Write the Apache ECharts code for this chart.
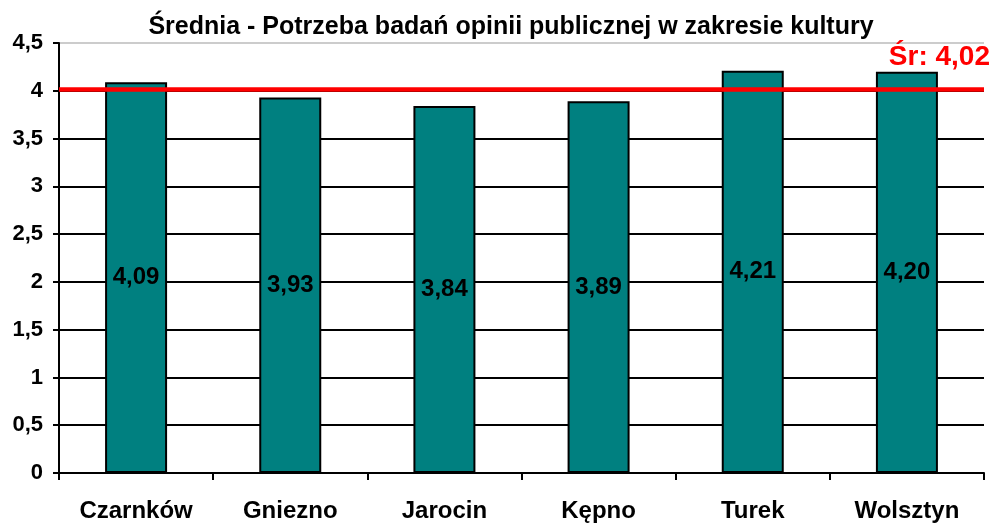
<!DOCTYPE html>
<html>
<head>
<meta charset="utf-8">
<script src="https://cdn.jsdelivr.net/npm/echarts@6/dist/echarts.min.js"></script>
<style>
  html, body { margin: 0; padding: 0; background: #fff; }
  #main { width: 994px; height: 525px; }
</style>
</head>
<body>
<div id="main"></div>
<script>
// dane wykresu
var titleText = 'Średnia - Potrzeba badań opinii publicznej w zakresie kultury'
var categories = ['Czarnków', 'Gniezno', 'Jarocin', 'Kępno', 'Turek', 'Wolsztyn']
var values = [4.09, 3.93, 3.84, 3.89, 4.21, 4.20]
var average = 4.02

var fmt = function (v) { return String(v).replace('.', ',') }

var chart = echarts.init(document.getElementById('main'))
chart.setOption({
  animation: false,
  backgroundColor: '#fff',
  textStyle: { fontFamily: 'Liberation Sans, Arial, sans-serif' },
  title: {
    text: titleText,
    left: 506,
    top: 10,
    textAlign: 'center',
    textStyle: { fontSize: 25, fontWeight: 'bold', color: '#000' }
  },
  grid: { left: 59, right: 10, top: 43, bottom: 52 },
  xAxis: {
    type: 'category',
    data: categories,
    axisLine: { lineStyle: { color: '#000', width: 2 } },
    axisTick: { show: true, length: 7, lineStyle: { color: '#000', width: 2 } },
    axisLabel: { color: '#000', fontSize: 24, fontWeight: 'bold', margin: 26 }
  },
  yAxis: {
    type: 'value',
    min: 0,
    max: 4.5,
    interval: 0.5,
    axisLine: { show: true, lineStyle: { color: '#000', width: 2 } },
    axisTick: { show: true, length: 6, lineStyle: { color: '#000', width: 2 } },
    axisLabel: {
      color: '#000', fontSize: 22, fontWeight: 'bold', margin: 16,
      formatter: function (v) { return fmt(v) }
    },
    splitLine: {
      lineStyle: {
        color: ['#000', '#000', '#000', '#000', '#000', '#000', '#000', '#000', '#000', '#ccc'],
        width: 2
      }
    }
  },
  series: [{
    type: 'bar',
    data: values,
    barWidth: 62,
    itemStyle: { color: '#008080', borderColor: '#000', borderWidth: 2 },
    label: {
      show: true,
      position: 'inside',
      color: '#000',
      fontSize: 24,
      fontWeight: 'bold',
      formatter: function (p) { return p.value.toFixed(2).replace('.', ',') }
    },
    markLine: {
      symbol: 'none',
      silent: true,
      lineStyle: { color: '#ff0000', width: 4.5, type: 'solid' },
      label: {
        show: true,
        position: 'insideEndTop',
        distance: [-6, 18],
        color: '#ff0000',
        fontSize: 28,
        fontWeight: 'bold',
        formatter: 'Śr: ' + fmt(average)
      },
      data: [{ yAxis: average }]
    }
  }]
})
</script>
</body>
</html>
